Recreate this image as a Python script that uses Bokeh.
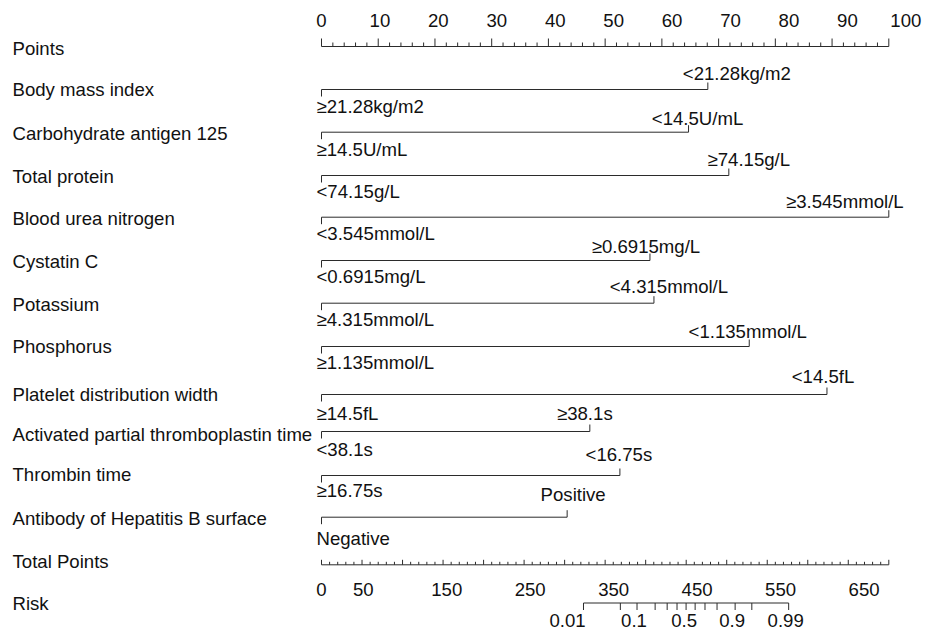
import math
from bokeh.plotting import figure
from bokeh.models import Range1d
from bokeh.core.properties import value
from bokeh.embed import file_html
from bokeh.resources import INLINE

# ---------------- data ----------------
variables = ["Body mass index", "Carbohydrate antigen 125", "Total protein",
             "Blood urea nitrogen", "Cystatin C", "Potassium", "Phosphorus",
             "Platelet distribution width", "Activated partial thromboplastin time",
             "Thrombin time", "Antibody of Hepatitis B surface"]
low_labels = ["≥21.28kg/m2", "≥14.5U/mL", "<74.15g/L", "<3.545mmol/L", "<0.6915mg/L",
              "≥4.315mmol/L", "≥1.135mmol/L", "≥14.5fL", "<38.1s", "≥16.75s", "Negative"]
high_labels = ["<21.28kg/m2", "<14.5U/mL", "≥74.15g/L", "≥3.545mmol/L", "≥0.6915mg/L",
               "<4.315mmol/L", "<1.135mmol/L", "<14.5fL", "≥38.1s", "<16.75s", "Positive"]
high_points = [68.1, 64.7, 71.8, 100.0, 57.9, 58.6, 75.4, 89.1, 47.3, 52.6, 43.3]

points_ticks = list(range(0, 101, 2))
points_tick_labels = list(range(0, 101, 10))
total_max = 700
total_ticks = list(range(0, 701, 10))
total_tick_labels = [0, 50, 150, 250, 350, 450, 550, 650]
risk_ticks = [0.01, 0.05, 0.1, 0.2, 0.3, 0.4, 0.5, 0.6, 0.7, 0.8, 0.9, 0.95, 0.99]
risk_tick_labels = ["0.01", "0.1", "0.5", "0.9", "0.99"]
lp_intercept = -16.33
lp_slope = 0.0363

# ---------------- layout ----------------
W, H = 926, 633
X0 = 321.0          # pixel x of 0 points
PPX = 5.673         # px per point
def to_pts(px):
    return (px - X0) / PPX

FONT = value("Liberation Sans")
FS = value("18.6px")
LINE_C = "#2b2b2b"
TXT_C = "#111111"
LABEL_STRETCH = 1.03
TDY = -7.5   # text baseline correction

def ty(vals):
    return [v + TDY for v in vals]

title_base = [55, 96.7, 140, 183.3, 225, 268.3, 311.7, 353.3, 401.7, 441.7, 481.7, 525, 568.3, 610]
line_y = [89, 131.7, 175, 216.7, 260, 302.7, 346, 394, 431, 475, 516.7]
hi_base = [80.7, 125, 166, 208.3, 253.3, 293.7, 338, 383, 420.5, 461.7, 501.7]
lo_base = [113.3, 156.7, 198.3, 240, 283.3, 326, 369, 420, 456.7, 497.3, 545]
hi_dx = [29, 9, 20, -44, -4, 15, -1.5, -4, -5, -1, 6]
risk_lab_dx = [-16, -3, -2, -3, -3]
points_y, total_y, risk_y = 46, 564.3, 602.5
TICK = 7

p = figure(width=W, height=H, output_backend="svg", toolbar_location=None,
           x_range=Range1d(to_pts(0), to_pts(W)), y_range=Range1d(H, 0),
           x_axis_location=None, y_axis_location=None, min_border=0,
           outline_line_color=None, background_fill_color="white",
           border_fill_color="white")
p.grid.visible = False

# row titles
titles = ["Points"] + variables + ["Total Points", "Risk"]
p.text(x=[to_pts(12)] * len(titles), y=ty(title_base), text=titles, text_font=FONT,
       text_font_size=FS, text_align="left", text_baseline="alphabetic", text_color=TXT_C)

# Points axis
p.segment(x0=[0], x1=[100], y0=[points_y], y1=[points_y], line_color=LINE_C, line_width=1)
p.segment(x0=points_ticks, x1=points_ticks, y0=[points_y] * len(points_ticks),
          y1=[points_y - (8 if t % 10 == 0 else 4) for t in points_ticks],
          line_color=LINE_C, line_width=1)
p.text(x=[v * LABEL_STRETCH for v in points_tick_labels], y=ty([27.3] * len(points_tick_labels)),
       text=[str(v) for v in points_tick_labels], text_font=FONT, text_font_size=FS,
       text_align="center", text_baseline="alphabetic", text_color=TXT_C)

# variable rows
n = len(variables)
p.segment(x0=[0] * n, x1=high_points, y0=line_y, y1=line_y, line_color=LINE_C, line_width=1)
p.segment(x0=[0] * n, x1=[0] * n, y0=line_y, y1=[y + TICK for y in line_y],
          line_color=LINE_C, line_width=1)
p.segment(x0=high_points, x1=high_points, y0=[y - TICK for y in line_y], y1=line_y,
          line_color=LINE_C, line_width=1)
p.text(x=[to_pts(316)] * n, y=ty(lo_base), text=low_labels, text_font=FONT, text_font_size=FS,
       text_align="left", text_baseline="alphabetic", text_color=TXT_C)
p.text(x=[hp + dx / PPX for hp, dx in zip(high_points, hi_dx)], y=ty(hi_base), text=high_labels,
       text_font=FONT, text_font_size=FS, text_align="center", text_baseline="alphabetic",
       text_color=TXT_C)

# Total points axis
scale = 100.0 / total_max
p.segment(x0=[0], x1=[total_max * scale], y0=[total_y], y1=[total_y], line_color=LINE_C, line_width=1)
p.segment(x0=[t * scale for t in total_ticks], x1=[t * scale for t in total_ticks],
          y0=[total_y] * len(total_ticks),
          y1=[total_y - (5 if t % 50 == 0 else 3) for t in total_ticks],
          line_color=LINE_C, line_width=1)
p.text(x=[v * scale * LABEL_STRETCH for v in total_tick_labels], y=ty([596.7] * len(total_tick_labels)),
       text=[str(v) for v in total_tick_labels], text_font=FONT, text_font_size=FS,
       text_align="center", text_baseline="alphabetic", text_color=TXT_C)

# Risk axis
def risk_x(r):
    lp = math.log(r / (1 - r))
    return (lp - lp_intercept) / lp_slope * scale

rx = [risk_x(r) for r in risk_ticks]
p.segment(x0=[rx[0]], x1=[rx[-1]], y0=[risk_y], y1=[risk_y], line_color=LINE_C, line_width=1)
p.segment(x0=rx, x1=rx, y0=[risk_y] * len(rx), y1=[risk_y + TICK] * len(rx),
          line_color=LINE_C, line_width=1)
p.text(x=[risk_x(float(s)) + dx / PPX for s, dx in zip(risk_tick_labels, risk_lab_dx)],
       y=ty([627] * len(risk_tick_labels)), text=risk_tick_labels, text_font=FONT,
       text_font_size=FS, text_align="center", text_baseline="alphabetic", text_color=TXT_C)

open("out.html", "w").write(file_html(p, INLINE))
